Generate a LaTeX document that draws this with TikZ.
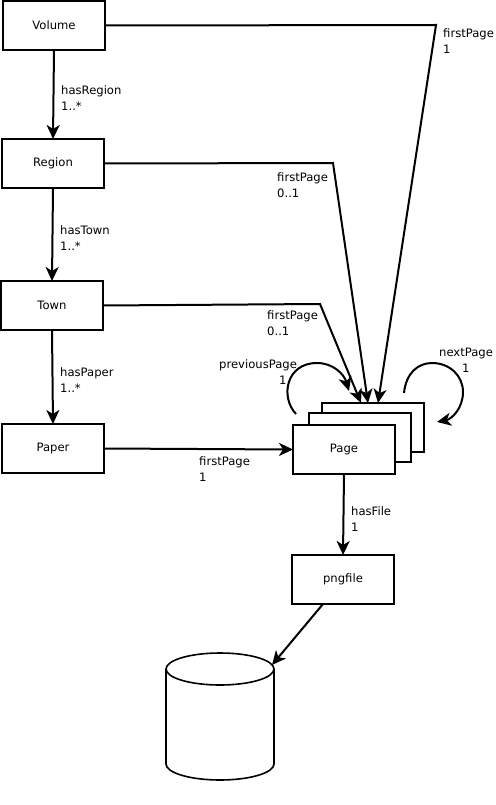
\documentclass[tikz,border=0pt]{standalone}
\usepackage{fontspec}
\setmainfont{DejaVu Sans}
\usetikzlibrary{arrows.meta}

\tikzset{
    box/.style={draw=black, fill=white, line width=2pt, minimum width=102pt, minimum height=49pt, outer sep=0pt, inner sep=0pt, font=\fontsize{11.6}{16}\selectfont},
    lbl/.style={anchor=west, align=left, inner sep=0pt, font=\fontsize{11.6}{16}\selectfont},
    link/.style={line width=2pt, -{Stealth[length=14pt, width=13pt, inset=4pt]}}
}

\begin{document}
\begin{tikzpicture}[x=1pt, y=-1pt]
    \useasboundingbox (0,0) rectangle (495,805);

    % CAIXES
    \node[box] (volume) at (54,25.5) {Volume};
    \node[box] (region) at (53,163.5) {Region};
    \node[box] (town) at (52,305.5) {Town};
    \node[box] (paper) at (53,448.5) {Paper};
    \node[box] (pageC) at (373,427.5) {};
    \node[box] (pageB) at (360,437.5) {};
    \node[box] (page) at (344,449.5) {Page};
    \node[box] (pngfile) at (343,579.5) {pngfile};

    % CILINDRE
    \draw[line width=1.6pt] (166,669) arc[start angle=180, end angle=-180, x radius=54, y radius=16];
    \draw[line width=1.6pt] (166,669) -- (166,764) arc[start angle=180, end angle=0, x radius=54, y radius=16] -- (274,669);
    \coordinate (store) at (272,665);

    % Punts de pas i extrems lliures
    \coordinate (bendV) at (436,25);
    \coordinate (bendR) at (333,163);
    \coordinate (bendT) at (320,304);
    \coordinate (endV) at (378,403);
    \coordinate (endR) at (368,403);
    \coordinate (endT) at (361,403);
    \coordinate (fromPng) at (323,604);

    % FLETXES
    \draw[link] (volume.south) -- (region.north);
    \draw[link] (region.south) -- (town.north);
    \draw[link] (town.south) -- (paper.north);
    \draw[link] (paper.east) -- (page.west);
    \draw[link] (page.south) -- (pngfile.north);
    \draw[link] (fromPng) -- (store);
    \draw[link] (volume.east) -- (bendV) -- (endV);
    \draw[link] (region.east) -- (bendR) -- (endR);
    \draw[link] (town.east) -- (bendT) -- (endT);

    % Bucles
    \draw[link] (296,414) .. controls (280,397) and (286,363) .. (317,363) .. controls (333,363) and (344,374) .. (349,391);
    \draw[link] (404,393) .. controls (406,373) and (418,363) .. (432,363) .. controls (450,363) and (463,376) .. (463,392) .. controls (463,408) and (452,419) .. (437,422);

    % ETIQUETES
    \node[lbl] (lblA) at (443,41) {firstPage\\1};
    \node[lbl] (lblB) at (61,98) {hasRegion\\1..*};
    \node[lbl] (lblC) at (277,185) {firstPage\\0..1};
    \node[lbl] (lblD) at (60,238) {hasTown\\1..*};
    \node[lbl] (lblE) at (267,323) {firstPage\\0..1};
    \node[lbl] (lblF) at (60,380) {hasPaper\\1..*};
    \node[lbl] (lblG) at (219,372) {previousPage\\\hspace*{60pt}1};
    \node[lbl] (lblH) at (439,360) {nextPage\\\hspace*{23pt}1};
    \node[lbl] (lblI) at (199,469) {firstPage\\1};
    \node[lbl] (lblJ) at (351,519) {hasFile\\1};
\end{tikzpicture}
\end{document}
